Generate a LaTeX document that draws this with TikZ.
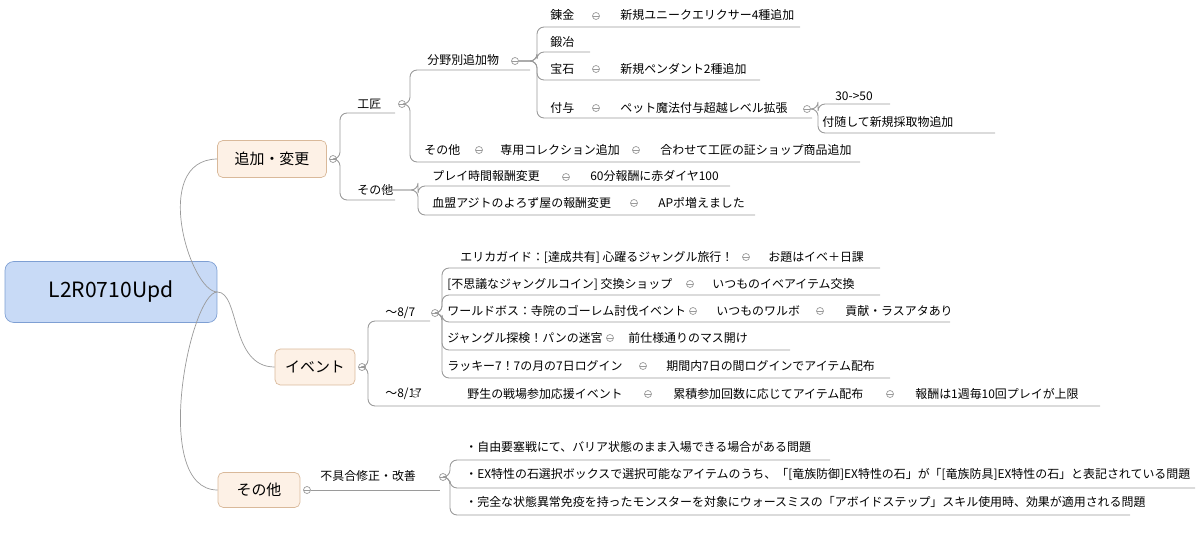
\documentclass[tikz,border=0pt]{standalone}
\usepackage{fontspec}
\setmainfont{Noto Sans CJK JP}
\usetikzlibrary{positioning}
\definecolor{linegray}{HTML}{9A9A9A}
\definecolor{peach}{HTML}{FDF1E6}
\definecolor{peachline}{HTML}{D9B99A}
\definecolor{rootblue}{HTML}{C8DAF6}
\definecolor{rootline}{HTML}{7E9FD3}

\tikzset{
  link/.style={draw=linegray, line width=0.5pt, rounded corners=4pt},
  txt/.style={anchor=west, inner sep=0pt, font=\fontsize{6.8}{8}\selectfont},
  mainbox/.style={draw=peachline, fill=peach, rounded corners=3pt, inner sep=0pt,
                  font=\fontsize{8.5}{10}\selectfont},
  fold/.style={draw=linegray, circle, minimum size=0.14cm, inner sep=0pt,
               path picture={\draw[linegray] ([xshift=-1.6pt]path picture bounding box.center) -- ([xshift=1.6pt]path picture bounding box.center);}}
}
% child branch: from fold node, down the trunk, along the underline
\newcommand\branch[4]{\draw[link] (#1.east) -| (#2,#3) -- (#4,#3);}

\begin{document}
\begin{tikzpicture}[x=0.02cm, y=-0.02cm]
   \useasboundingbox (0,0) rectangle (1200,544);

   % Root and main topics
      \node[draw=rootline, fill=rootblue, rounded corners=5pt, minimum width=4.24cm, minimum height=1.22cm,
            font=\fontsize{12}{14}\selectfont] (root) at (111,292) {L2R0710Upd};
      \node[mainbox, minimum width=2.18cm, minimum height=0.74cm] (add)  at (272,159) {追加・変更};
      \node[mainbox, minimum width=1.6cm,  minimum height=0.72cm] (ev)   at (315,367) {イベント};
      \node[mainbox, minimum width=1.64cm, minimum height=0.7cm]  (misc) at (259,490) {その他};
      \draw[linegray] (root.east) .. controls (190,292) and (150,160) .. (add.west);
      \draw[linegray] (root.east) .. controls (240,292) and (230,367) .. (ev.west);
      \draw[linegray] (root.east) .. controls (190,292) and (150,490) .. (misc.west);
      \node[fold] (fadd)  at (333,159) {};
      \node[fold] (fev)   at (362,367) {};
      \node[fold] (fmisc) at (307,490) {};

   % 追加・変更
      \node[txt] (craft) at (357,104) {工匠};
      \node[fold] (fcraft) at (402,104) {};
      \branch{fadd}{340}{113}{395}
      \node[txt] (oth1) at (357,190) {その他};
      \node[fold] (foth1) at (386,190) {};
      \branch{fadd}{340}{200}{395}

      \node[txt] (field) at (427,60) {分野別追加物};
      \node[fold] (ffield) at (515,61) {};
      \branch{fcraft}{410}{70}{530}
      \node[txt] (oth2) at (424,150) {その他};
      \node[fold] (foth2a) at (479,150) {};
      \node[txt] (coll) at (500,150) {専用コレクション追加};
      \node[fold] (foth2b) at (636,150) {};
      \node[txt] (shop) at (660,150) {合わせて工匠の証ショップ商品追加};
      \branch{fcraft}{410}{162}{860}

      \node[txt] (alch) at (550,15) {錬金};
      \node[fold] (falch) at (596,16) {};
      \node[txt] (elix) at (620,15) {新規ユニークエリクサー4種追加};
      \branch{ffield}{537}{27}{800}
      \node[txt] (smith) at (550,42) {鍛冶};
      \branch{ffield}{537}{52}{590}
      \node[txt] (gem) at (550,69) {宝石};
      \node[fold] (fgem) at (596,69) {};
      \node[txt] (pend) at (620,69) {新規ペンダント2種追加};
      \branch{ffield}{537}{80}{760}
      \node[txt] (ench) at (550,108) {付与};
      \node[fold] (fench) at (596,108) {};
      \node[txt] (pet) at (620,108) {ペット魔法付与超越レベル拡張};
      \node[fold] (fpet) at (807,109) {};
      \branch{ffield}{537}{118}{812}
      \node[txt] (lvl) at (835,96) {30->50};
      \branch{fpet}{818}{104}{890}
      \node[txt] (gath) at (822,122) {付随して新規採取物追加};
      \branch{fpet}{818}{133}{995}

      \node[txt] (play) at (432,176) {プレイ時間報酬変更};
      \node[fold] (fplay) at (566,177) {};
      \node[txt] (dia) at (590,176) {60分報酬に赤ダイヤ100};
      \branch{foth1}{418}{186}{730}
      \node[txt] (clan) at (432,203) {血盟アジトのよろず屋の報酬変更};
      \node[fold] (fclan) at (634,203) {};
      \node[txt] (ap) at (658,203) {APポ増えました};
      \branch{foth1}{418}{215}{755}

   % イベント
      \node[txt] (d87) at (385,313) {～8/7};
      \node[fold] (fd87) at (435,313) {};
      \branch{fev}{368}{321}{430}
      \node[txt] (d817) at (385,394) {～8/17};
      \node[fold] (fd817a) at (415,394) {};
      \node[txt] (wild) at (467,394) {野生の戦場参加応援イベント};
      \node[fold] (fd817b) at (648,394) {};
      \node[txt] (cum) at (673,394) {累積参加回数に応じてアイテム配布};
      \node[fold] (fd817c) at (890,394) {};
      \node[txt] (cap) at (915,394) {報酬は1週毎10回プレイが上限};
      \branch{fev}{368}{406}{1100}

      \node[txt] (erika) at (460,257) {エリカガイド：[達成共有] 心躍るジャングル旅行！};
      \node[fold] (ferika) at (746,257) {};
      \node[txt] (daily) at (768,257) {お題はイベ＋日課};
      \branch{fd87}{442}{268}{880}
      \node[txt] (coin) at (447,284) {[不思議なジャングルコイン] 交換ショップ};
      \node[fold] (fcoin) at (690,284) {};
      \node[txt] (xchg) at (712,284) {いつものイベアイテム交換};
      \branch{fd87}{442}{295}{880}
      \node[txt] (boss) at (447,311) {ワールドボス：寺院のゴーレム討伐イベント};
      \node[fold] (fbossa) at (693,311) {};
      \node[txt] (wb) at (716,311) {いつものワルボ};
      \node[fold] (fbossb) at (820,311) {};
      \node[txt] (last) at (845,311) {貢献・ラスアタあり};
      \branch{fd87}{442}{322}{950}
      \node[txt] (maze) at (447,338) {ジャングル探検！パンの迷宮};
      \node[fold] (fmaze) at (610,338) {};
      \node[txt] (mass) at (628,338) {前仕様通りのマス開け};
      \branch{fd87}{442}{350}{790}
      \node[txt] (lucky) at (447,366) {ラッキー7！7の月の7日ログイン};
      \node[fold] (flucky) at (643,366) {};
      \node[txt] (login) at (666,366) {期間内7日の間ログインでアイテム配布};
      \branch{fd87}{442}{378}{890}

   % その他
      \node[txt] (bug) at (320,476) {不具合修正・改善};
      \node[fold] (fbug) at (443,477) {};
      \draw[link] (fmisc.east) -- (440,490);
      \node[txt] (bug1) at (465,447) {・自由要塞戦にて、バリア状態のまま入場できる場合がある問題};
      \branch{fbug}{450}{460}{830}
      \node[txt] (bug2) at (465,474) {・EX特性の石選択ボックスで選択可能なアイテムのうち、「[竜族防御]EX特性の石」が「[竜族防具]EX特性の石」と表記されている問題};
      \branch{fbug}{450}{488}{1195}
      \node[txt] (bug3) at (465,502) {・完全な状態異常免疫を持ったモンスターを対象にウォースミスの「アボイドステップ」スキル使用時、効果が適用される問題};
      \branch{fbug}{450}{515}{1130}
\end{tikzpicture}
\end{document}
